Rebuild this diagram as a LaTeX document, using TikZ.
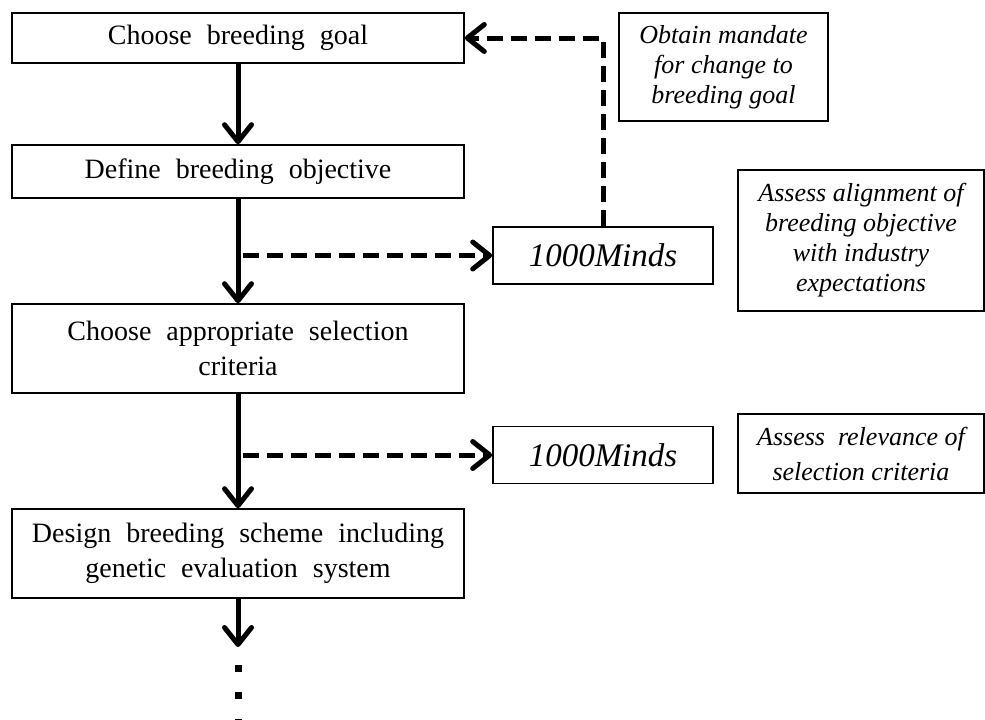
\documentclass[tikz,border=0pt]{standalone}
\usepackage{fontspec}
\setmainfont{Liberation Serif}
\usetikzlibrary{arrows.meta}
\newcommand\stagefont{\fontsize{28}{35}\selectfont\spaceskip=15pt plus 3pt minus 3pt\relax}
\newcommand\toolfont{\fontsize{33}{38}\selectfont\itshape}
\newcommand\notefont{\fontsize{26}{30}\selectfont\itshape}

\begin{document}
\begin{tikzpicture}[x=1pt, y=-1pt, >={Straight Barb[length=17pt,width=27pt,round]},
    stage/.style={draw, line width=1.6pt, minimum width=452pt, align=center, font=\stagefont, inner sep=0pt},
    tool/.style={draw, line width=1.6pt, minimum width=220pt, minimum height=57pt, font=\toolfont, inner sep=0pt},
    note/.style={draw, line width=1.6pt, minimum width=246pt, align=center, font=\notefont, inner sep=0pt},
    flow/.style={->, line width=5pt},
    link/.style={->, line width=5pt, dash pattern=on 16pt off 8pt}]
    \useasboundingbox (0,0) rectangle (985,720);
    % main chain
    \node[stage, minimum height=50pt] (goal) at (238,38) {Choose breeding goal};
    \node[stage, minimum height=53pt] (objective) at (238,171.5) {Define breeding objective};
    \node[stage, minimum height=89pt] (criteria) at (238,348.5) {Choose appropriate selection\\criteria};
    \node[stage, minimum height=89pt] (scheme) at (238,553.5) {Design breeding scheme including\\genetic evaluation system};
    \coordinate (next) at (238,647);
    \draw[flow] (goal) -- (objective);
    \draw[flow] (objective) -- (criteria);
    \draw[flow] (criteria) -- (scheme);
    \draw[flow] (scheme) -- (next);
    \foreach \y in {668.5,695.5,722}
        \fill (238,\y) +(-3.5,-3.5) rectangle +(3.5,3.5);
    % 1000Minds steps
    \node[tool] (mindsA) at (603,255.5) {1000Minds};
    \node[tool] (mindsB) at (603,455) {1000Minds};
    \draw[link, shorten <=5pt] (objective.south |- mindsA.west) -- (mindsA.west);
    \draw[link, shorten <=5pt] (criteria.south |- mindsB.west) -- (mindsB.west);
    \draw[link] (mindsA.north) |- (goal.east);
    % notes
    \node[note, minimum width=209pt, minimum height=108pt] (mandate) at (723.5,67) {Obtain mandate\\for change to\\breeding goal};
    \node[note, minimum height=141pt] (alignment) at (861,240.5) {Assess alignment of\\breeding objective\\with industry\\expectations};
    \node[note, minimum height=79pt] (relevance) at (861,453.5) {Assess~ relevance of\\[5pt]selection criteria};
\end{tikzpicture}
\end{document}
